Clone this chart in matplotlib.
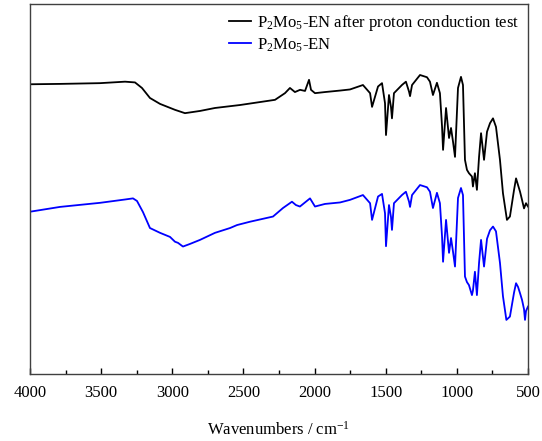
import matplotlib
matplotlib.use("Agg")
import matplotlib.pyplot as plt
from matplotlib.ticker import MultipleLocator

plt.rcParams['font.family'] = ['Liberation Serif', 'DejaVu Serif']
plt.rcParams['mathtext.fontset'] = 'custom'
plt.rcParams['mathtext.rm'] = 'Liberation Serif'
plt.rcParams['mathtext.default'] = 'rm'

# black trace : after proton conduction test (wavenumber, transmittance a.u.)
wn_after = [4000, 3789, 3508, 3332, 3262, 3213, 3157, 3086, 2981, 2911, 2805, 2700,
            2524, 2278, 2208, 2173, 2138, 2102, 2067, 2039, 2025, 1997, 1927, 1821,
            1751, 1660, 1610, 1596, 1554, 1526, 1505, 1498, 1477, 1463, 1456, 1442,
            1386, 1358, 1336, 1329, 1315, 1259, 1210, 1189, 1168, 1140, 1119, 1104,
            1097, 1076, 1055, 1041, 1027, 1013, 992, 971, 957, 943, 929, 915, 894,
            887, 873, 859, 844, 830, 809, 788, 767, 746, 725, 697, 676, 648, 627,
            598, 584, 570, 556, 542, 528, 514, 500]
T_after = [78.2, 78.3, 78.5, 78.9, 78.7, 77.2, 74.5, 72.9, 71.3, 70.4, 71.0, 71.8,
           72.6, 74.0, 75.8, 77.2, 76.1, 76.7, 76.4, 79.4, 76.7, 75.8, 76.1, 76.5,
           76.8, 78.0, 75.8, 72.1, 77.6, 78.5, 73.1, 64.5, 75.3, 72.1, 69.0, 75.8,
           78.0, 78.9, 76.2, 75.0, 78.0, 80.7, 80.1, 78.9, 75.3, 78.6, 75.8, 66.7,
           60.5, 71.8, 63.7, 66.4, 62.7, 58.6, 77.2, 80.2, 78.0, 57.8, 55.1, 54.2,
           53.3, 50.6, 54.2, 49.7, 58.6, 65.0, 57.8, 65.4, 67.7, 69.0, 66.7, 57.8,
           48.8, 41.6, 42.5, 49.7, 52.8, 51.0, 49.2, 47.0, 44.7, 46.1, 45.2]

# blue trace : P2Mo5-EN
wn_fresh = [4000, 3789, 3508, 3332, 3276, 3248, 3206, 3157, 3086, 3016, 2981, 2960,
            2925, 2876, 2805, 2700, 2594, 2545, 2454, 2292, 2222, 2159, 2131, 2103,
            2032, 1997, 1927, 1821, 1751, 1660, 1610, 1596, 1554, 1526, 1505, 1498,
            1477, 1463, 1456, 1442, 1386, 1358, 1336, 1329, 1315, 1259, 1210, 1189,
            1168, 1140, 1119, 1104, 1097, 1076, 1055, 1041, 1027, 1013, 992, 971,
            957, 943, 929, 915, 894, 887, 873, 859, 844, 830, 809, 788, 767, 746,
            725, 697, 676, 652, 627, 598, 584, 570, 556, 542, 528, 521, 514, 500]
T_fresh = [43.8, 45.1, 46.2, 47.1, 47.4, 46.7, 43.7, 39.4, 38.1, 37.0, 35.7, 35.4,
           34.4, 35.1, 36.2, 38.1, 39.4, 40.2, 41.1, 42.5, 44.8, 46.5, 45.6, 45.2,
           47.4, 45.2, 45.9, 46.3, 47.0, 48.3, 46.1, 41.6, 47.9, 48.6, 43.4, 34.5,
           45.6, 42.4, 38.9, 46.1, 48.3, 49.2, 46.5, 45.1, 48.3, 51.0, 50.4, 49.2,
           44.8, 48.9, 46.1, 37.0, 30.3, 41.6, 32.7, 36.7, 33.0, 29.0, 47.5, 50.2,
           48.3, 26.3, 24.8, 24.0, 21.3, 22.5, 27.6, 21.3, 30.0, 36.2, 29.0, 36.5,
           38.8, 39.8, 38.5, 30.0, 21.0, 14.6, 15.5, 22.0, 24.5, 23.5, 21.8, 20.0,
           17.5, 14.6, 17.0, 18.2]

labels = ['P$_2$Mo$_5$-EN after proton conduction test', 'P$_2$Mo$_5$-EN']

fig = plt.figure(figsize=(5.42, 4.41), dpi=100)
ax = fig.add_axes([30/542, 1-374/441, 498/542, 370.5/441])

ax.plot(wn_after, T_after, color='black', lw=1.3, label=labels[0])
ax.plot(wn_fresh, T_fresh, color='#0000ff', lw=1.3, label=labels[1])

ax.set_xlim(4000, 500)
ax.set_ylim(0, 100)
ax.xaxis.set_major_locator(MultipleLocator(500))
ax.xaxis.set_minor_locator(MultipleLocator(250))
ax.tick_params(axis='x', which='major', direction='in', length=4.5, width=1, labelsize=12, pad=8)
ax.tick_params(axis='x', which='minor', direction='in', length=3, width=1)
ax.set_yticks([])
for s in ax.spines.values():
    s.set_color('#404040')
    s.set_linewidth(1.0)

ax.set_xlabel('Wavenumbers / cm$^{-1}$', fontsize=12, labelpad=14)

ax.legend(loc='upper right', frameon=False, fontsize=12, handlelength=1.3,
          handletextpad=0.35, labelspacing=0.22, borderaxespad=0.15)

fig.savefig('out.png', dpi=100)
